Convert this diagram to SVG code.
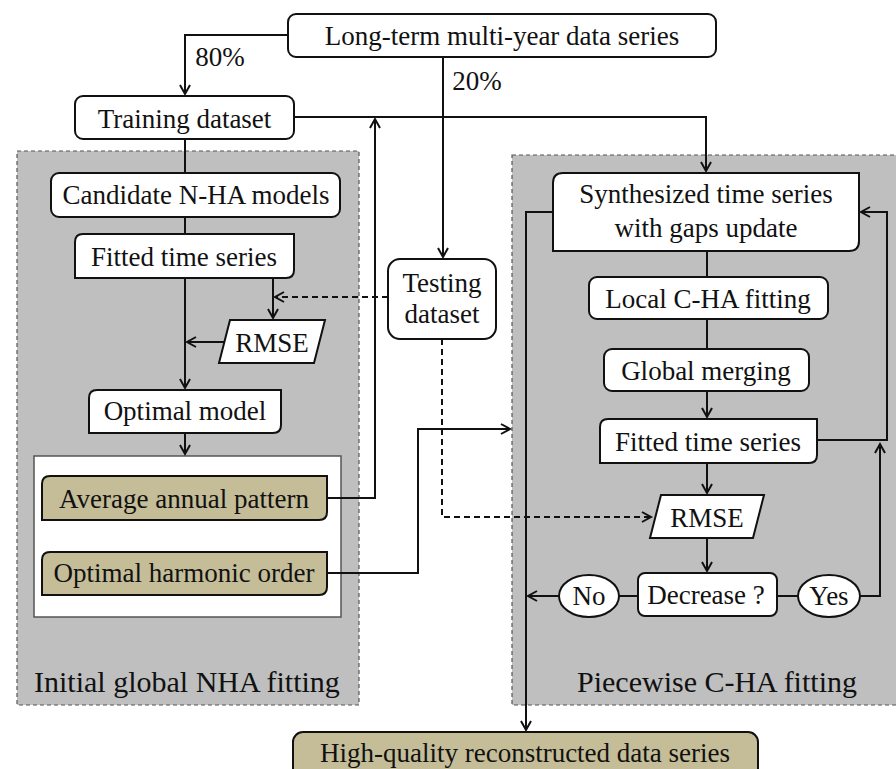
<svg xmlns="http://www.w3.org/2000/svg" width="896" height="769" viewBox="0 0 896 769">
<defs>
<style>
.t{font-family:"Liberation Serif","Times New Roman",serif;font-size:27px;fill:#111;text-anchor:middle}
.pl{font-family:"Liberation Serif","Times New Roman",serif;font-size:30px;fill:#111}
.b{fill:#fff;stroke:#111;stroke-width:2}
.k{fill:#c4bd97;stroke:#111;stroke-width:2}
.panel{fill:#bfbfbf;stroke:#555;stroke-width:1.2;stroke-dasharray:4,3}
.c{fill:none;stroke:#111;stroke-width:2}
.d{fill:none;stroke:#111;stroke-width:2;stroke-dasharray:6,4}
</style>
<marker id="a" markerUnits="userSpaceOnUse" markerWidth="14" markerHeight="14" refX="10" refY="6" orient="auto">
<path d="M1,1 L10,6 L1,11" fill="none" stroke="#111" stroke-width="2"/>
</marker>
</defs>
<rect width="896" height="769" fill="#fff"/>
<g id="panel-left">
<rect class="panel" x="17" y="151" width="342" height="554"/>
<text class="pl" x="34" y="692">Initial global NHA fitting</text>
</g>
<g id="panel-right">
<rect class="panel" x="512" y="155" width="400" height="550"/>
<text class="pl" x="577" y="692">Piecewise C-HA fitting</text>
</g>
<g id="output-box">
<rect x="34" y="456" width="307" height="161" fill="#fff" stroke="#555" stroke-width="1.5"/>
</g>
<g id="connectors">
<path class="c" d="M288,35 H185 V94" stroke-width="2.6" marker-end="url(#a)"/>
<path class="c" d="M443,57 V257" stroke-width="2.6" marker-end="url(#a)"/>
<path class="c" d="M294,117 H706 V171" marker-end="url(#a)"/>
<path class="c" d="M185,139 V173 M185,217 V234"/>
<path class="c" d="M185,278 V388" marker-end="url(#a)"/>
<path class="c" d="M273,278 V318" marker-end="url(#a)"/>
<path class="c" d="M225,342 H187" marker-end="url(#a)"/>
<path class="d" d="M388,297 H275" marker-end="url(#a)"/>
<path class="c" d="M185,433 V454" marker-end="url(#a)"/>
<path class="c" d="M327,498 H375 V119" marker-end="url(#a)"/>
<path class="c" d="M327,573 H418 V429 H510" marker-end="url(#a)"/>
<path class="d" d="M442,339 V517 H651" marker-end="url(#a)"/>
<path class="c" d="M553,212 H526 V730" marker-end="url(#a)"/>
<path class="c" d="M707,251 V277 M707,319 V349"/>
<path class="c" d="M707,391 V417" marker-end="url(#a)"/>
<path class="c" d="M707,463 V493" marker-end="url(#a)"/>
<path class="c" d="M707,538 V571" marker-end="url(#a)"/>
<path class="c" d="M619,596 H638 M777,596 H798"/>
<path class="c" d="M559,596 H528" marker-end="url(#a)"/>
<path class="c" d="M860,596 H880 V444" marker-end="url(#a)"/>
<path class="c" d="M817,440 H887 V212 H861" marker-end="url(#a)"/>
<text class="t" x="220" y="66">80%</text>
<text class="t" x="477" y="90">20%</text>
</g>
<g id="long-term">
<rect class="b" x="288" y="14" width="428" height="43" rx="8"/>
<text class="t" x="502" y="45">Long-term multi-year data series</text>
</g>
<g id="training">
<rect class="b" x="75" y="96" width="219" height="43" rx="8"/>
<text class="t" x="184.5" y="128">Training  dataset</text>
</g>
<g id="candidate">
<rect class="b" x="51" y="173" width="289" height="44" rx="8"/>
<text class="t" x="196" y="204">Candidate N-HA models</text>
</g>
<g id="fitted-left">
<path class="b" d="M75,242 Q75,234 83,234 H294 V270 Q294,278 286,278 H75 Z"/>
<text class="t" x="184" y="266">Fitted time series</text>
</g>
<g id="rmse-left">
<polygon class="b" points="230,320 325,320 314,363 219,363"/>
<text class="t" x="272" y="352">RMSE</text>
</g>
<g id="optimal-model">
<path class="b" d="M89,398 Q89,390 97,390 H281 V425 Q281,433 273,433 H89 Z"/>
<text class="t" x="185" y="420">Optimal model</text>
</g>
<g id="average-annual">
<path class="k" d="M42,484 Q42,476 50,476 H327 V512 Q327,520 319,520 H42 Z"/>
<text class="t" x="184" y="508">Average annual pattern</text>
</g>
<g id="optimal-harmonic">
<path class="k" d="M42,560 Q42,552 50,552 H327 V587 Q327,595 319,595 H42 Z"/>
<text class="t" x="184" y="582">Optimal harmonic order</text>
</g>
<g id="testing">
<rect class="b" x="388" y="259" width="108" height="80" rx="12"/>
<text class="t" x="442" y="292">Testing</text>
<text class="t" x="442" y="323">dataset</text>
</g>
<g id="synthesized">
<path class="b" d="M553,183 Q553,173 563,173 H859 V241 Q859,251 849,251 H553 Z"/>
<text class="t" x="706" y="203">Synthesized time series</text>
<text class="t" x="706" y="237">with gaps update</text>
</g>
<g id="local">
<rect class="b" x="589" y="277" width="239" height="42" rx="8"/>
<text class="t" x="708" y="308">Local C-HA fitting</text>
</g>
<g id="global">
<rect class="b" x="604" y="349" width="205" height="42" rx="8"/>
<text class="t" x="706" y="380">Global merging</text>
</g>
<g id="fitted-right">
<path class="b" d="M600,427 Q600,419 608,419 H817 V455 Q817,463 809,463 H600 Z"/>
<text class="t" x="708" y="451">Fitted time series</text>
</g>
<g id="rmse-right">
<polygon class="b" points="661,495 764,495 753,538 650,538"/>
<text class="t" x="707" y="527">RMSE</text>
</g>
<g id="decrease">
<rect class="b" x="638" y="573" width="139" height="43" rx="7"/>
<text class="t" x="706" y="604">Decrease ?</text>
</g>
<g id="no">
<ellipse class="b" cx="589" cy="596" rx="30" ry="21"/>
<text class="t" x="589" y="605">No</text>
</g>
<g id="yes">
<ellipse class="b" cx="829" cy="596" rx="31" ry="21"/>
<text class="t" x="829" y="605">Yes</text>
</g>
<g id="high-quality">
<rect class="k" x="293" y="732" width="465" height="60" rx="10"/>
<text class="t" x="525" y="762">High-quality  reconstructed data series</text>
</g>
</svg>
